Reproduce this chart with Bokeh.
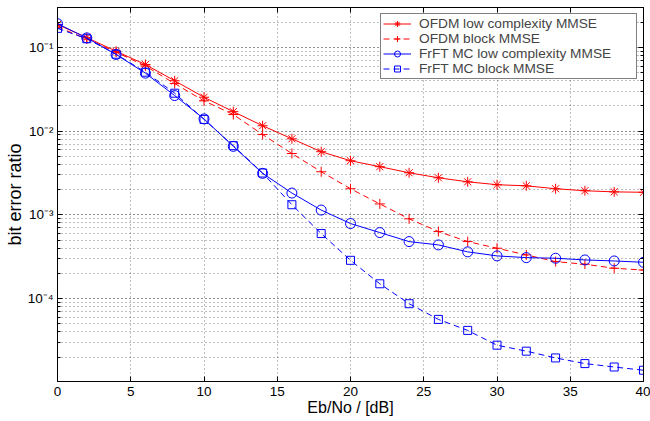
from bokeh.plotting import figure
from bokeh.models import (FixedTicker, LinearAxis, LogAxis, Legend, LegendItem,
                          Range1d)
from bokeh.embed import file_html
from bokeh.resources import INLINE

# ---- data ----
ebno = [0, 2, 4, 6, 8, 10, 12, 14, 16, 18, 20, 22, 24, 26, 28, 30, 32, 34, 36, 38, 40]

ofdm_low = [0.188, 0.131, 0.090, 0.0625, 0.040, 0.0254, 0.0171, 0.0116, 0.0081, 0.00568,
            0.00443, 0.00376, 0.00318, 0.00277, 0.00248, 0.00229, 0.00222, 0.00205,
            0.00194, 0.00188, 0.00186]
ofdm_block = [0.176, 0.126, 0.088, 0.060, 0.037, 0.023, 0.0158, 0.0091, 0.0054, 0.00327,
              0.00205, 0.00135, 0.000896, 0.000631, 0.000479, 0.000399, 0.000332,
              0.000276, 0.000257, 0.000230, 0.000219]
frft_low = [0.192, 0.130, 0.0824, 0.0493, 0.0266, 0.0140, 0.00658, 0.00313, 0.00182,
            0.00114, 0.000787, 0.000614, 0.000479, 0.000437, 0.000361, 0.000323,
            0.000308, 0.000303, 0.000289, 0.000281, 0.000271]
frft_block = [0.169, 0.127, 0.083, 0.0506, 0.0284, 0.0138, 0.0067, 0.00316, 0.00132,
              0.000597, 0.000286, 0.000150, 8.67e-5, 5.63e-5, 4.16e-5, 2.77e-5,
              2.35e-5, 1.95e-5, 1.67e-5, 1.52e-5, 1.39e-5]

series_labels = ["OFDM low complexity MMSE", "OFDM block MMSE",
                 "FrFT MC low complexity MMSE", "FrFT MC block MMSE"]

x_ticks = [0, 5, 10, 15, 20, 25, 30, 35, 40]
y_ticks = [1e-4, 1e-3, 1e-2, 1e-1]
y_tick_labels = ["10\u207b\u2074", "10\u207b\u00b3", "10\u207b\u00b2", "10\u207b\u00b9"]
y_minor = [m * 10.0 ** e for e in range(-5, 0) for m in range(1, 10)]

FONT = "Liberation Sans"

p = figure(width=650, height=421, y_axis_type="log",
           x_range=Range1d(0, 40), y_range=Range1d(1.02e-5, 0.3),
           output_backend="svg", toolbar_location=None,
           min_border_left=57, min_border_right=7, min_border_top=7, min_border_bottom=40)
p.background_fill_color = "white"
p.border_fill_color = "white"
p.outline_line_color = "black"
p.outline_line_width = 1

# ---- series ----
def series(y, color, marker, dash, size):
    ln = p.line(ebno, y, line_color=color, line_width=1, line_dash=dash)
    mk = p.scatter(ebno, y, marker=marker, size=size, line_color=color,
                   fill_color=None, line_width=1)
    return [ln, mk]

r1 = series(ofdm_low, "#ff0000", "asterisk", "solid", 10)
r2 = series(ofdm_block, "#ff0000", "cross", "6 4", 10)
r3 = series(frft_low, "#0000ff", "circle", "solid", 10)
r4 = series(frft_block, "#0000ff", "square", "6 4", 8)

# ---- axes ----
xt = FixedTicker(ticks=x_ticks, minor_ticks=[])
yt = FixedTicker(ticks=y_ticks, minor_ticks=y_minor)
p.xaxis.ticker = xt
p.yaxis.ticker = yt
p.yaxis.major_label_overrides = dict(zip(y_ticks, y_tick_labels))

for ax in (p.xaxis[0], p.yaxis[0]):
    ax.major_tick_in = 5
    ax.major_tick_out = 0
    ax.minor_tick_in = 3
    ax.minor_tick_out = 0
    ax.axis_line_color = "black"
    ax.major_tick_line_color = "black"
    ax.minor_tick_line_color = "black"
    ax.major_label_text_font = FONT
    ax.major_label_text_font_size = "13.5px"
    ax.major_label_text_color = "black"
    ax.major_label_standoff = 5
    ax.axis_label_text_font = FONT
    ax.axis_label_text_font_style = "normal"
    ax.axis_label_text_color = "black"

p.yaxis.major_label_standoff = 4
p.xaxis.axis_label = "Eb/No / [dB]"
p.xaxis.axis_label_text_font_size = "16px"
p.xaxis.axis_label_standoff = 0
p.yaxis.axis_label = "bit error ratio"
p.yaxis.axis_label_text_font_size = "18px"
p.yaxis.axis_label_standoff = 0

top = LinearAxis(ticker=xt)
right = LogAxis(ticker=yt)
for ax in (top, right):
    ax.major_tick_in = 5
    ax.major_tick_out = 0
    ax.minor_tick_in = 3
    ax.minor_tick_out = 0
    ax.major_label_text_font_size = "1px"
    ax.major_label_text_color = None
    ax.major_label_standoff = 0
    ax.axis_line_color = "black"
p.add_layout(top, "above")
p.add_layout(right, "right")

# ---- grid ----
p.xgrid.ticker = xt
p.ygrid.ticker = yt
for g in (p.xgrid[0], p.ygrid[0]):
    g.grid_line_color = "black"
    g.grid_line_alpha = 0.5
    g.grid_line_dash = "1 3"
    g.grid_line_width = 1
p.ygrid.minor_grid_line_color = "black"
p.ygrid.minor_grid_line_alpha = 0.5
p.ygrid.minor_grid_line_dash = "1 3"

# ---- legend ----
legend = Legend(items=[LegendItem(label=series_labels[0], renderers=r1),
                       LegendItem(label=series_labels[1], renderers=r2),
                       LegendItem(label=series_labels[2], renderers=r3),
                       LegendItem(label=series_labels[3], renderers=r4)],
                location="top_right")
legend.margin = 6
legend.padding = 2
legend.spacing = 0
legend.glyph_width = 28
legend.glyph_height = 15
legend.label_height = 15
legend.label_width = 215
legend.label_standoff = 8
legend.label_text_font = FONT
legend.label_text_font_size = "13.7px"
legend.border_line_color = "black"
legend.border_line_width = 1
legend.background_fill_color = "white"
legend.background_fill_alpha = 1
p.add_layout(legend)

open("out.html", "w").write(file_html(p, INLINE))
